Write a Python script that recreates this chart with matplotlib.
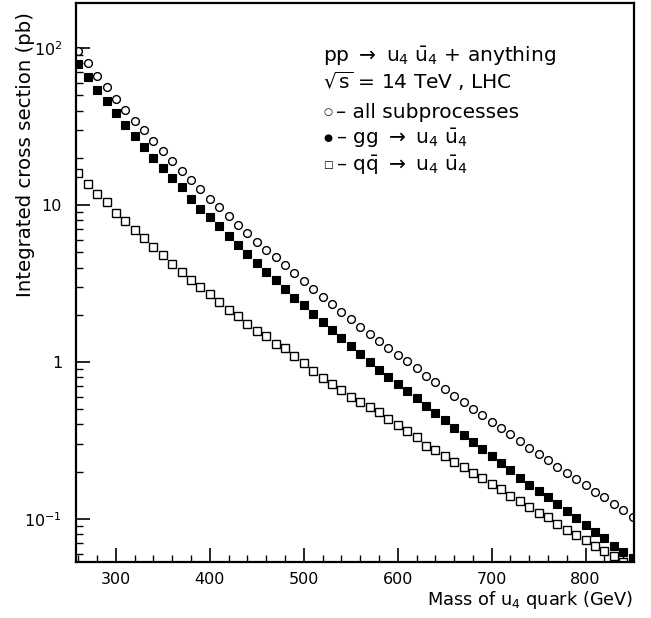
import matplotlib
matplotlib.use("Agg")
import matplotlib.pyplot as plt
import numpy as np
from matplotlib.ticker import FixedLocator, MultipleLocator, NullFormatter, LogLocator

plt.rcParams['font.family'] = ['DejaVu Sans']
plt.rcParams['mathtext.fontset'] = 'dejavusans'

mass = [260, 270, 280, 290, 300, 310, 320, 330, 340, 350,
        360, 370, 380, 390, 400, 410, 420, 430, 440, 450,
        460, 470, 480, 490, 500, 510, 520, 530, 540, 550,
        560, 570, 580, 590, 600, 610, 620, 630, 640, 650,
        660, 670, 680, 690, 700, 710, 720, 730, 740, 750,
        760, 770, 780, 790, 800, 810, 820, 830, 840, 850]

sigma_all = [96.1, 79.9, 66.6, 56.7, 47.5, 40.1, 34.4, 29.9, 25.7, 22.1,
             19.1, 16.6, 14.4, 12.6, 11.0, 9.71, 8.48, 7.49, 6.60, 5.81,
             5.19, 4.64, 4.13, 3.69, 3.28, 2.92, 2.61, 2.33, 2.08, 1.87,
             1.68, 1.51, 1.36, 1.23, 1.11, 1.01, 0.920, 0.818, 0.746, 0.676,
             0.610, 0.554, 0.504, 0.460, 0.417, 0.382, 0.348, 0.313, 0.282, 0.258,
             0.238, 0.215, 0.195, 0.180, 0.164, 0.149, 0.138, 0.125, 0.1136, 0.1035]

sigma_gg = [79.4, 65.6, 54.0, 46.2, 38.5, 32.2, 27.4, 23.4, 20.0, 17.2,
            14.9, 12.96, 10.97, 9.47, 8.35, 7.35, 6.32, 5.54, 4.88, 4.25,
            3.74, 3.31, 2.93, 2.55, 2.31, 2.03, 1.80, 1.59, 1.42, 1.26,
            1.12, 1.00, 0.889, 0.806, 0.724, 0.656, 0.593, 0.527, 0.473, 0.427,
            0.382, 0.344, 0.309, 0.279, 0.252, 0.226, 0.205, 0.183, 0.165, 0.150,
            0.1375, 0.1247, 0.112, 0.1015, 0.0912, 0.083, 0.0754, 0.0676, 0.0616, 0.0562]

sigma_qq = [16.0, 13.7, 11.8, 10.45, 8.93, 7.87, 6.93, 6.19, 5.38, 4.80,
            4.24, 3.73, 3.33, 3.02, 2.70, 2.42, 2.14, 1.96, 1.75, 1.58,
            1.46, 1.31, 1.22, 1.09, 0.981, 0.877, 0.794, 0.724, 0.660, 0.601,
            0.554, 0.517, 0.478, 0.432, 0.395, 0.366, 0.334, 0.293, 0.275, 0.253,
            0.232, 0.213, 0.197, 0.182, 0.167, 0.1545, 0.140, 0.130, 0.1198, 0.1096,
            0.1035, 0.0929, 0.0848, 0.0787, 0.0735, 0.0673, 0.0628, 0.0581, 0.0535, np.nan]

xticks = [300, 400, 500, 600, 700, 800]
yticks = [0.1, 1, 10, 100]
ytick_labels = [r'10$^{-1}$', '1', '10', r'10$^{2}$']

W, H = 651, 618
fig = plt.figure(figsize=(W / 100, H / 100), dpi=100)
ax = fig.add_axes([76 / W, 1 - 562 / H, (634 - 76) / W, (562 - 3) / H])

ax.plot(mass, sigma_all, linestyle='none', marker='o', markersize=5.6,
        markerfacecolor='white', markeredgecolor='black', markeredgewidth=1.0)
ax.plot(mass, sigma_gg, linestyle='none', marker='s', markersize=5.4,
        markerfacecolor='black', markeredgecolor='black', markeredgewidth=0.8)
ax.plot(mass, sigma_qq, linestyle='none', marker='s', markersize=5.4,
        markerfacecolor='white', markeredgecolor='black', markeredgewidth=1.0)

ax.set_yscale('log')
ax.set_xlim(257.5, 851.5)
ax.set_ylim(0.0532, 194)

ax.xaxis.set_major_locator(FixedLocator(xticks))
ax.xaxis.set_minor_locator(MultipleLocator(20))
ax.set_xticklabels([str(t) for t in xticks])
ax.yaxis.set_major_locator(FixedLocator(yticks))
ax.set_yticklabels(ytick_labels)
ax.yaxis.set_minor_locator(LogLocator(base=10, subs=np.arange(2, 10)))
ax.yaxis.set_minor_formatter(NullFormatter())

ax.tick_params(axis='both', which='major', direction='in', length=10, width=1.2,
               labelsize=11.5, top=False, right=False)
ax.tick_params(axis='both', which='minor', direction='in', length=5, width=1.0,
               top=False, right=False)
ax.tick_params(axis='x', which='major', pad=7)
ax.tick_params(axis='y', which='major', pad=10)
for s in ax.spines.values():
    s.set_linewidth(1.6)

fig.text(26 / W, 1 - 12 / H, 'Integrated cross section (pb)', rotation=90,
         ha='center', va='top', fontsize=14.2)
fig.text(633 / W, 1 - 600 / H, r'Mass of u$_4$ quark (GeV)', ha='right',
         va='center', fontsize=12.8)

fs = 14.5
tx = 323 / W
dx = 13 / W
ax_t = fig.text
ax_t(tx, 1 - 56 / H, r'pp $\rightarrow$ u$_4$ $\bar{\mathrm{u}}_4$ + anything',
     ha='left', va='center', fontsize=fs)
ax_t(tx, 1 - 81 / H, r'$\sqrt{\mathrm{s}}$ = 14 TeV , LHC', ha='left', va='center', fontsize=fs)
ax_t(tx, 1 - 112 / H, '\u25cb', ha='left', va='center', fontsize=7.5)
ax_t(tx + dx, 1 - 112 / H, '\u2013 all subprocesses', ha='left', va='center', fontsize=fs)
ax_t(tx, 1 - 138 / H, '\u25cf', ha='left', va='center', fontsize=7.5)
ax_t(tx + dx, 1 - 138 / H, '\u2013 gg $\\rightarrow$ u$_4$ $\\bar{\\mathrm{u}}_4$',
     ha='left', va='center', fontsize=fs)
ax_t(tx, 1 - 165 / H, '\u25a1', ha='left', va='center', fontsize=7.5)
ax_t(tx + dx, 1 - 165 / H, '\u2013 q$\\bar{\\mathrm{q}}$ $\\rightarrow$ u$_4$ $\\bar{\\mathrm{u}}_4$',
     ha='left', va='center', fontsize=fs)

fig.savefig('out.png', dpi=100)
